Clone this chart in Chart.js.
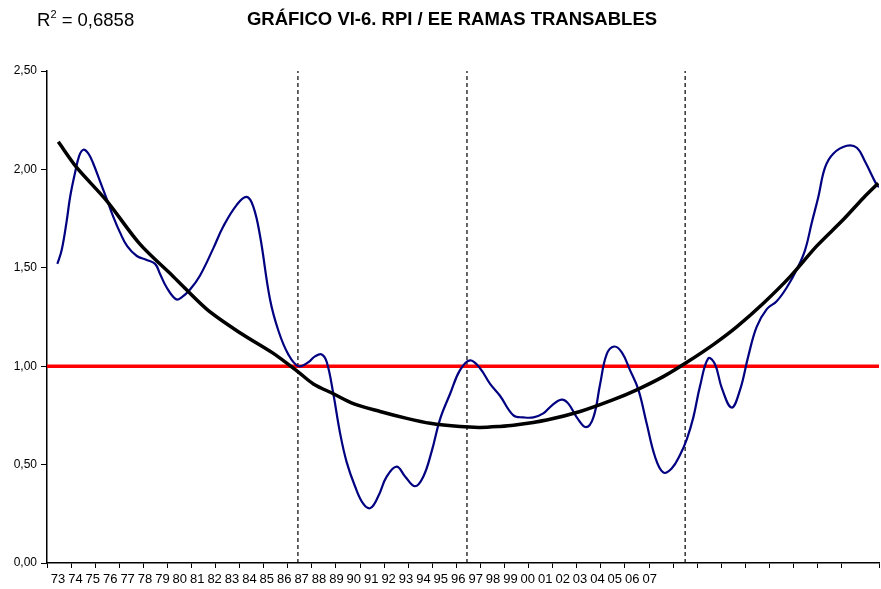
<!DOCTYPE html>
<html>
<head>
<meta charset="utf-8">
<script src="https://cdn.jsdelivr.net/npm/chart.js@4/dist/chart.umd.min.js"></script>
<style>
  body { margin: 0; background: #fff; }
  #wrap { position: relative; width: 881px; height: 589px; }
  #r2 { position: absolute; left: 37px; top: 11px; font: 18.5px "Liberation Sans", Arial, sans-serif; line-height: 18px; color: #000; }
  #r2 sup { font-size: 11px; line-height: 0; position: relative; top: -1px; }
  #title { position: absolute; left: 0; width: 904px; text-align: center; top: 10px; font: bold 18.5px "Liberation Sans", Arial, sans-serif; line-height: 18px; color: #000; }
</style>
</head>
<body>
<div id="wrap">
  <canvas id="chart"></canvas>
  <div id="r2">R<sup>2</sup> = 0,6858</div>
  <div id="title">GRÁFICO VI-6. RPI / EE RAMAS TRANSABLES</div>
</div>
<script>
// ---------- data ----------
const xLabels = ["73","74","75","76","77","78","79","80","81","82","83","84","85","86","87","88","89","90",
  "91","92","93","94","95","96","97","98","99","00","01","02","03","04","05","06","07"];

const rpiYears = [1973.43,1973.61,1973.82,1973.96,1974.16,1974.34,1974.51,1974.72,1974.92,1975.20,
  1975.48,1975.75,1976.03,1976.33,1976.73,1977.14,1977.49,1977.69,1977.97,1978.36,
  1978.59,1978.94,1979.35,1979.91,1980.32,1980.88,1981.29,1981.57,1981.85,1982.26,
  1982.61,1983.02,1983.44,1983.85,1984.13,1984.41,1984.62,1984.89,1985.17,1985.45,
  1985.79,1986.14,1986.44,1986.76,1987.11,1987.52,1987.87,1988.28,1988.63,1988.98,
  1989.32,1989.74,1990.15,1990.57,1990.98,1991.40,1991.81,1992.37,1992.78,1993.20,
  1993.61,1993.96,1994.37,1994.65,1995.00,1995.38,1995.69,1995.97,1996.24,1996.55,
  1996.87,1997.21,1997.56,1997.90,1998.25,1998.59,1998.94,1999.29,1999.57,1999.84,
  2000.12,2000.46,2000.74,2001.02,2001.43,2001.78,2002.12,2002.47,2002.89,2003.30,
  2003.72,2004.13,2004.48,2004.76,2005.03,2005.31,2005.65,2006.21,2006.63,2006.97,
  2007.46,2007.55];
const rpiValues = [1.52,1.59,1.74,1.86,1.98,2.07,2.10,2.08,2.03,1.94,
  1.85,1.76,1.68,1.61,1.56,1.54,1.52,1.47,1.40,1.34,
  1.35,1.39,1.46,1.60,1.71,1.82,1.86,1.81,1.66,1.34,
  1.18,1.06,1.00,1.02,1.05,1.06,1.02,0.86,0.66,0.51,
  0.39,0.30,0.28,0.34,0.44,0.49,0.44,0.39,0.44,0.57,
  0.73,0.86,0.98,1.03,0.99,0.91,0.85,0.75,0.74,0.74,
  0.76,0.80,0.83,0.81,0.74,0.69,0.74,0.91,1.06,1.10,
  1.07,0.98,0.88,0.71,0.54,0.46,0.48,0.55,0.63,0.74,
  0.90,1.04,1.01,0.89,0.79,0.88,1.05,1.20,1.29,1.33,
  1.40,1.49,1.59,1.73,1.86,2.01,2.08,2.12,2.11,2.04,
  1.92,1.91];

const trendYears = [1973.47,1974.23,1975.48,1976.86,1978.25,1979.63,1981.01,1982.40,1983.44,1984.06,
  1984.89,1985.72,1986.83,1987.94,1988.91,1990.15,1990.98,1991.81,1992.37,1993.75,
  1995.14,1996.52,1997.49,1998.59,1999.57,2000.67,2001.64,2002.75,2003.86,2004.96,
  2006.07,2006.90,2007.52];
const trendValues = [2.14,2.01,1.84,1.62,1.455,1.29,1.17,1.065,0.97,0.91,
  0.86,0.81,0.77,0.735,0.71,0.693,0.689,0.694,0.70,0.727,
  0.77,0.83,0.88,0.947,1.02,1.11,1.20,1.32,1.455,1.61,
  1.745,1.855,1.93];

const breakYears = [1983.42, 1990.44, 1999.5];
const refValue = 1.0;
const yTicks = [0, 0.5, 1, 1.5, 2, 2.5];

// ---------- chart ----------
const X_MIN = 1973, X_MAX = 2007.55;
const FONT = "'Liberation Sans', Arial, sans-serif";
const pts = (xs, ys) => xs.map((x, i) => ({ x, y: ys[i] }));

const datasets = [
  {
    data: [{ x: X_MIN, y: refValue }, { x: X_MAX, y: refValue }],
    borderColor: "#ff0000", borderWidth: 3.5, order: 3,
  },
  {
    data: pts(rpiYears, rpiValues),
    borderColor: "#000080", borderWidth: 2.2, tension: 0.4, order: 2,
  },
  {
    data: pts(trendYears, trendValues),
    borderColor: "#000000", borderWidth: 3.5, tension: 0.3, order: 1,
  },
];
breakYears.forEach((b) => {
  datasets.push({
    data: [{ x: b, y: 0 }, { x: b, y: 2.5 }],
    borderColor: "#000000", borderWidth: 1.2, borderDash: [4, 3], order: 4,
  });
});

new Chart(document.getElementById("chart"), {
  type: "line",
  data: { datasets },
  options: {
    responsive: true,
    maintainAspectRatio: false,
    animation: false,
    layout: { padding: { top: 71, right: 2, bottom: 0, left: 0 } },
    elements: { point: { radius: 0 }, line: { fill: false } },
    plugins: { legend: { display: false }, tooltip: { enabled: false } },
    scales: {
      x: {
        type: "linear", position: "bottom", min: X_MIN, max: X_MAX, weight: 0,
        ticks: { display: false, stepSize: 1 },
        grid: { drawOnChartArea: false, drawTicks: true, tickLength: 5, color: "#000" },
        border: { color: "#000", width: 1.5 },
        afterFit: (s) => { s.height = 6; },
      },
      xl: {
        type: "linear", position: "bottom", min: X_MIN, max: X_MAX, weight: 1,
        afterBuildTicks: (s) => {
          s.ticks = xLabels.map((_, i) => ({ value: 1973.457 + i * 0.7226 }));
        },
        ticks: {
          autoSkip: false, maxRotation: 0, minRotation: 0, padding: 3,
          color: "#000", font: { family: FONT, size: 13 },
          callback: (v, i) => xLabels[i],
        },
        grid: { display: false, drawTicks: false },
        border: { display: false },
        afterFit: (s) => { s.height = 20; },
      },
      y: {
        min: 0, max: 2.5,
        afterBuildTicks: (s) => { s.ticks = yTicks.map((v) => ({ value: v })); },
        ticks: {
          padding: 4, color: "#000", font: { family: FONT, size: 12 },
          callback: (v) => v.toFixed(2).replace(".", ","),
        },
        grid: { drawOnChartArea: false, drawTicks: true, tickLength: 6, color: "#000" },
        border: { color: "#000", width: 1.5 },
        afterFit: (s) => { s.width = 47; },
      },
    },
  },
});
</script>
</body>
</html>
